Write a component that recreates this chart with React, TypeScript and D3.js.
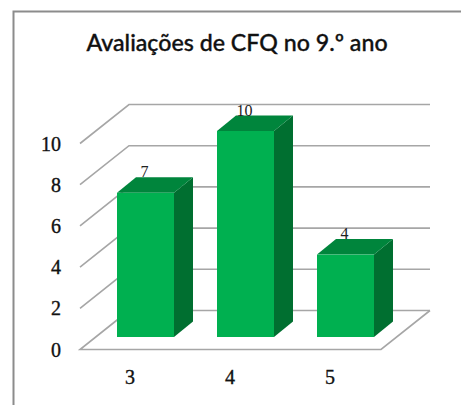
import React from "react";
import * as d3 from "d3";

const categories = ["3", "4", "5"];
const grades = [7, 10, 4];
const yTicks = [0, 2, 4, 6, 8, 10];
const title = "Avaliações de CFQ no 9.º ano";

const WIDTH = 461;
const HEIGHT = 405;
const DEPTH_X = 49;
const DEPTH_Y = 39;
const BAR_DX = 19;
const BAR_DY = 15.5;

// Front plane of the 3D box: value axis. Bars stand partway into the box's depth,
// so their band scale sits to the right of the floor's front edge.
const yFront = d3.scaleLinear().domain([0, 10]).range([349.5, 143.5]);
const x = d3.scaleBand().domain(categories).range([95, 396]).paddingInner(0.43).paddingOuter(0.22);
const barBase = 337;
const barHeight = d3.scaleLinear().domain([0, 10]).range([0, 206]);

const GRID = "#a6a6a6";
const FRONT = "#00b050";
const TOP = "#00853c";
const SIDE = "#006f30";
const TITLE_FONT = "Lato, sans-serif";
const AXIS_FONT = "'Liberation Serif', serif";

export default function App() {
  const floorY = yFront(0);
  const floor = d3.line()([
    [80 + DEPTH_X, floorY - DEPTH_Y],
    [80, floorY],
    [381, floorY],
    [381 + DEPTH_X, floorY - DEPTH_Y],
  ]);
  return (
    <svg
      width={WIDTH}
      height={HEIGHT}
      style={{ position: "absolute", left: 0, top: 0, background: "#fff" }}
    >
      {/* Chart frame, cut off by the right and bottom edges */}
      <path d={`M13.5 ${HEIGHT} V11.5 H${WIDTH}`} fill="none" stroke="#8c8c8c" strokeWidth={2} />
      <text
        x={237}
        y={51}
        textAnchor="middle"
        fontFamily={TITLE_FONT}
        fontSize={23.2}
        fontWeight={500}
        fill="#111"
        stroke="#111"
        strokeWidth={0.35}
      >
        {title}
      </text>

      {/* Wall gridlines with their slanted run along the side wall */}
      {yTicks.map((t) => {
        const y = yFront(t);
        const pts: [number, number][] =
          t === 0
            ? [
                [80 + DEPTH_X, y - DEPTH_Y],
                [430, y - DEPTH_Y],
              ]
            : [
                [80, y],
                [80 + DEPTH_X, y - DEPTH_Y],
                [430, y - DEPTH_Y],
              ];
        return <path key={t} d={d3.line()(pts) ?? ""} fill="none" stroke={GRID} strokeWidth={1.6} />;
      })}
      <path d={floor ?? ""} fill="none" stroke={GRID} strokeWidth={1.6} />

      {yTicks.map((t) => (
        <text
          key={t}
          x={61}
          y={yFront(t) + 7}
          textAnchor="end"
          fontFamily={AXIS_FONT}
          fontSize={20}
          fill="#111"
          stroke="#111"
          strokeWidth={0.35}
        >
          {t}
        </text>
      ))}

      {/* Extruded bars: side, top and front faces */}
      {grades.map((v, i) => {
        const c = categories[i];
        const x0 = x(c) ?? 0;
        const x1 = x0 + x.bandwidth();
        const yTop = barBase - barHeight(v);
        return (
          <g key={c}>
            <polygon
              fill={SIDE}
              points={`${x1},${yTop} ${x1 + BAR_DX},${yTop - BAR_DY} ${x1 + BAR_DX},${barBase - BAR_DY} ${x1},${barBase}`}
            />
            <polygon
              fill={TOP}
              points={`${x0},${yTop} ${x0 + BAR_DX},${yTop - BAR_DY} ${x1 + BAR_DX},${yTop - BAR_DY} ${x1},${yTop}`}
            />
            <rect x={x0} y={yTop} width={x.bandwidth()} height={barHeight(v)} fill={FRONT} />
            <text
              x={x0 + x.bandwidth() / 2 - 1}
              y={yTop - BAR_DY}
              textAnchor="middle"
              fontFamily="'Liberation Serif', serif"
              fontSize={16}
              fill="#222"
            >
              {v}
            </text>
            <text
              x={x0 + 13}
              y={384}
              textAnchor="middle"
              fontFamily={AXIS_FONT}
              fontSize={20}
              fill="#111"
              stroke="#111"
              strokeWidth={0.35}
            >
              {c}
            </text>
          </g>
        );
      })}
    </svg>
  );
}
